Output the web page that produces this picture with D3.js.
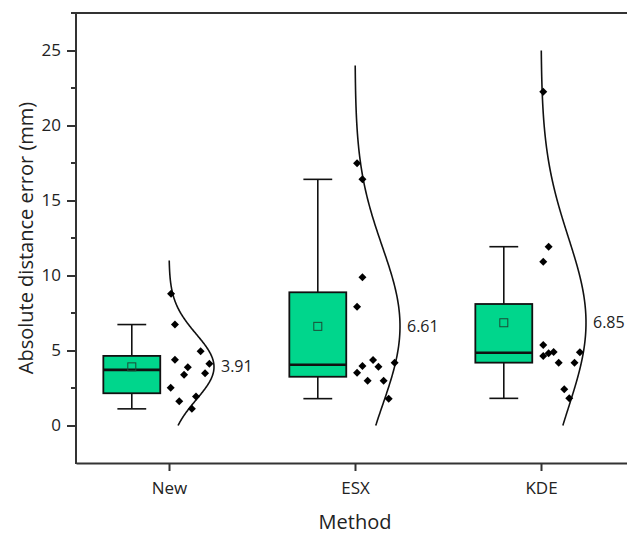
<!DOCTYPE html>
<html lang="en">

<head>
    <meta charset="UTF-8">
    <title>Absolute distance error</title>
    <style>
        body {
            margin: 0;
            background: white;
        }

        text {
            font-family: "Open Sans", "Noto Sans", sans-serif;
            fill: #222;
        }
    </style>
</head>

<body>
    <div id="chart"></div>
    <script src="https://cdn.jsdelivr.net/npm/d3@7/dist/d3.min.js"></script>
    <script>
        // categories
        const methods = ["New", "ESX", "KDE"];

        // raw errors (mm), one array per method
        const newErr = [8.78, 6.73, 4.95, 4.38, 4.11, 3.89, 3.38, 3.49, 2.51, 1.93, 1.62, 1.11];
        const esxErr = [17.48, 16.41, 9.88, 7.92, 4.37, 3.97, 3.92, 4.19, 3.52, 2.99, 2.99, 1.79];
        const kdeErr = [22.25, 11.92, 10.92, 5.37, 4.63, 4.81, 4.90, 4.19, 4.19, 4.88, 2.41, 1.81];

        // horizontal jitter of each point, in category units right of the tick
        const newJit = [0.011, 0.032, 0.170, 0.032, 0.217, 0.101, 0.081, 0.194, 0.009, 0.145, 0.055, 0.123];
        const esxJit = [0.011, 0.040, 0.040, 0.011, 0.097, 0.040, 0.126, 0.213, 0.011, 0.068, 0.154, 0.181];
        const kdeJit = [0.012, 0.041, 0.012, 0.012, 0.012, 0.041, 0.068, 0.095, 0.180, 0.209, 0.125, 0.152];

        // box statistics
        const whiskLo = [1.11, 1.79, 1.81];
        const q1 = [2.15, 3.25, 4.19];
        const median = [3.71, 4.05, 4.85];
        const q3 = [4.64, 8.88, 8.10];
        const whiskHi = [6.73, 16.41, 11.92];
        const meanLabel = [3.91, 6.61, 6.85];

        // extent of each normal curve
        const curveLo = [0, 0, 0];
        const curveHi = [11, 24, 25];

        const yTicks = [0, 5, 10, 15, 20, 25];
        const yMinor = [2.5, 7.5, 12.5, 17.5, 22.5, 27.5];

        (() => {
            const width = 627;
            const height = 537;
            const axisColor = "#333";

            const x = d3.scaleLinear().domain([0.5, 3.5]).range([76, 634]);
            const y = d3.scaleLinear().domain([-2.5, 27.5]).range([463, 13]);
            const unit = x(1) - x(0);

            const svg = d3.select("#chart").append("svg")
                .attr("width", width)
                .attr("height", height);

            const groups = methods.map((m, i) => ({
                name: m,
                pos: i + 1,
                values: [newErr, esxErr, kdeErr][i],
                jitter: [newJit, esxJit, kdeJit][i],
                lo: whiskLo[i], q1: q1[i], med: median[i], q3: q3[i], hi: whiskHi[i],
                label: meanLabel[i],
                cLo: curveLo[i], cHi: curveHi[i]
            }));

            const boxOff = -0.2;   // box centre relative to tick
            const boxW = 0.306;
            const capW = 0.155;
            const peak = 45;       // widest point of the normal curve, px

            const g = svg.append("g");

            groups.forEach(d => {
                const cx = x(d.pos + boxOff);

                // whiskers
                const wg = g.append("g").attr("stroke", "#111").attr("stroke-width", 1.6);
                wg.append("line").attr("x1", cx).attr("x2", cx).attr("y1", y(d.hi)).attr("y2", y(d.q3));
                wg.append("line").attr("x1", cx).attr("x2", cx).attr("y1", y(d.q1)).attr("y2", y(d.lo));
                [d.hi, d.lo].forEach(v => {
                    wg.append("line")
                        .attr("x1", x(d.pos + boxOff - capW / 2)).attr("x2", x(d.pos + boxOff + capW / 2))
                        .attr("y1", y(v)).attr("y2", y(v));
                });

                // box
                g.append("rect")
                    .attr("x", x(d.pos + boxOff - boxW / 2))
                    .attr("width", boxW * unit)
                    .attr("y", y(d.q3))
                    .attr("height", y(d.q1) - y(d.q3))
                    .attr("fill", "#00d68c")
                    .attr("stroke", "#111")
                    .attr("stroke-width", 1.8);

                g.append("line")
                    .attr("x1", x(d.pos + boxOff - boxW / 2)).attr("x2", x(d.pos + boxOff + boxW / 2))
                    .attr("y1", y(d.med)).attr("y2", y(d.med))
                    .attr("stroke", "#111").attr("stroke-width", 2.6);

                // mean marker
                g.append("rect")
                    .attr("x", cx - 4).attr("y", y(d.label) - 4)
                    .attr("width", 8).attr("height", 8)
                    .attr("fill", "none")
                    .attr("stroke", "#1b4b36")
                    .attr("stroke-width", 1);

                // normal curve from the data's mean and sd
                const mu = d3.mean(d.values);
                const sd = d3.deviation(d.values);
                const pdf = v => Math.exp(-((v - mu) ** 2) / (2 * sd * sd));
                const steps = d3.range(0, 201).map(k => d.cLo + (d.cHi - d.cLo) * k / 200);
                const line = d3.line()
                    .x(v => x(d.pos) + peak * pdf(v))
                    .y(v => y(v))
                    .curve(d3.curveBasis);
                g.append("path")
                    .attr("d", line(steps))
                    .attr("fill", "none")
                    .attr("stroke", "#111")
                    .attr("stroke-width", 1.6);

                // data points
                g.append("g")
                    .selectAll("path")
                    .data(d.values)
                    .join("path")
                    .attr("d", d3.symbol().type(d3.symbolSquare).size(32))
                    .attr("transform", (v, j) => `translate(${x(d.pos + d.jitter[j])},${y(v)}) rotate(45)`)
                    .attr("fill", "#000");

                // mean text
                g.append("text")
                    .attr("x", x(d.pos) + peak + 7)
                    .attr("y", y(d.label))
                    .attr("dy", "0.35em")
                    .attr("font-size", 16)
                    .text(d3.format(".2f")(d.label));
            });

            // top frame line
            svg.append("line")
                .attr("x1", 76).attr("x2", width)
                .attr("y1", y(27.5)).attr("y2", y(27.5))
                .attr("stroke", axisColor).attr("stroke-width", 2);

            const yAxis = svg.append("g")
                .attr("transform", `translate(${x(0.5)},0)`)
                .call(d3.axisLeft(y).tickValues(yTicks).tickSize(9).tickPadding(6).tickSizeOuter(0));
            yAxis.append("g")
                .selectAll("line")
                .data(yMinor)
                .join("line")
                .attr("x1", -5).attr("x2", 0)
                .attr("y1", d => y(d)).attr("y2", d => y(d))
                .attr("stroke", axisColor).attr("stroke-width", 2);

            const xAxis = svg.append("g")
                .attr("transform", `translate(0,${y(-2.5)})`)
                .call(d3.axisBottom(x).tickValues([1, 2, 3]).tickFormat((d, i) => methods[i])
                    .tickSize(8).tickPadding(11).tickSizeOuter(0));

            [yAxis, xAxis].forEach(a => {
                a.select(".domain").attr("stroke", axisColor).attr("stroke-width", 2);
                a.selectAll(".tick line").attr("stroke", axisColor).attr("stroke-width", 2);
                a.selectAll(".tick text").attr("font-size", 17).attr("fill", "#222")
                    .attr("font-family", "'Open Sans', sans-serif");
            });
            yAxis.select(".domain").attr("d", `M0,${y(-2.5) + 1}V${y(27.5) - 1}`);

            // axis titles
            svg.append("text")
                .attr("transform", `translate(26,${(y(-2.5) + y(27.5)) / 2}) rotate(-90)`)
                .attr("text-anchor", "middle")
                .attr("dy", "0.35em")
                .attr("font-size", 20)
                .text("Absolute distance error (mm)");

            svg.append("text")
                .attr("x", x(2))
                .attr("y", 529)
                .attr("text-anchor", "middle")
                .attr("font-size", 20)
                .text("Method");
        })();
    </script>
</body>

</html>
